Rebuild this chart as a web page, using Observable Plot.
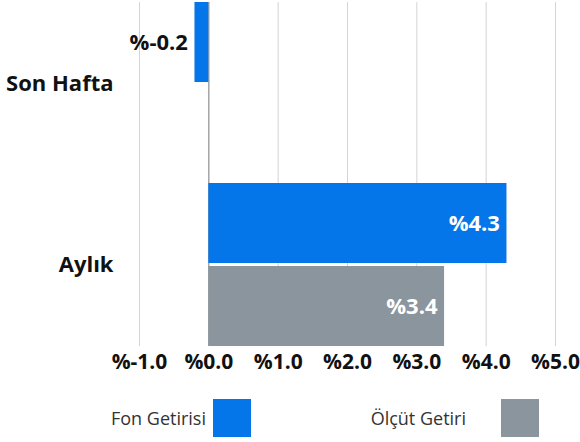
<!DOCTYPE html>
<html>
<head>
<meta charset="utf-8">
<script src="https://cdn.jsdelivr.net/npm/d3@7"></script>
<script src="https://cdn.jsdelivr.net/npm/@observablehq/plot@0.6"></script>
<style>
  html, body { margin: 0; padding: 0; background: #fff; }
  #wrap { width: 580px; height: 442px; position: relative; font-family: "Open Sans", sans-serif; }
  #legend { position: relative; width: 580px; height: 66px; }
  .lg-text { position: absolute; top: 23px; height: 38px; line-height: 38px; font-size: 18px; color: #333; white-space: nowrap; }
  .lg-sw { position: absolute; top: 23px; width: 38px; height: 38px; }
</style>
</head>
<body>
<div id="wrap">
  <div id="chart"></div>
  <div id="legend"></div>
</div>
<script>
const categories = ["Son Hafta", "Aylık"];
const series = ["Fon Getirisi", "Ölçüt Getiri"];
const fonValues = [-0.2, 4.3];
const olcutValues = [null, 3.4];
const xTicks = [-1, 0, 1, 2, 3, 4, 5];
const colors = ["#0575ea", "#8b959e"];

const fmt = d => "%" + d.toFixed(1);
const fon = categories.map((c, i) => ({category: c, series: series[0], value: fonValues[i]})).filter(d => d.value != null);
const olcut = categories.map((c, i) => ({category: c, series: series[1], value: olcutValues[i]})).filter(d => d.value != null);

const chart = Plot.plot({
  width: 580,
  height: 376,
  marginTop: 2,
  marginBottom: 30,
  marginLeft: 139,
  marginRight: 25,
  style: {fontFamily: "Open Sans, sans-serif", fontSize: "20px", color: "#111", background: "#fff"},
  x: {domain: [-1, 5], label: null},
  y: {domain: categories, paddingInner: 0.1, paddingOuter: 0, label: null},
  marks: [
    Plot.gridX(xTicks, {stroke: "#d4d4d4", strokeOpacity: 1}),
    Plot.ruleX([0], {stroke: "#8a8a8a"}),
    Plot.barX(fon, {x: "value", y: "category", fill: colors[0], insetBottom: 83}),
    Plot.barX(olcut, {x: "value", y: "category", fill: colors[1], insetTop: 83}),
    Plot.text(fon, {x: "value", y: "category", text: d => fmt(d.value), textAnchor: "end", dx: -7, dy: -41.5,
      fill: d => d.value < 0 ? "#111" : "#fff", fontSize: 22, fontWeight: "bold"}),
    Plot.text(olcut, {x: "value", y: "category", text: d => fmt(d.value), textAnchor: "end", dx: -7, dy: 41.5,
      fill: d => d.value < 0 ? "#111" : "#fff", fontSize: 22, fontWeight: "bold"}),
    Plot.axisX({ticks: xTicks, tickFormat: fmt, tickSize: 0, tickPadding: 8, fontSize: 21, fontWeight: "bold", label: null}),
    Plot.axisY({tickSize: 0, tickPadding: 26, fontSize: 22, fontWeight: "bold", label: null})
  ]
});
document.getElementById("chart").appendChild(chart);

const legend = document.getElementById("legend");
const items = [
  {label: series[0], color: colors[0], textRight: 374, swLeft: 213},
  {label: series[1], color: colors[1], textRight: 114, swLeft: 501}
];
items.forEach(it => {
  const t = document.createElement("div");
  t.className = "lg-text";
  t.style.right = it.textRight + "px";
  t.textContent = it.label;
  legend.appendChild(t);
  const s = document.createElement("div");
  s.className = "lg-sw";
  s.style.left = it.swLeft + "px";
  s.style.background = it.color;
  legend.appendChild(s);
});
</script>
</body>
</html>
